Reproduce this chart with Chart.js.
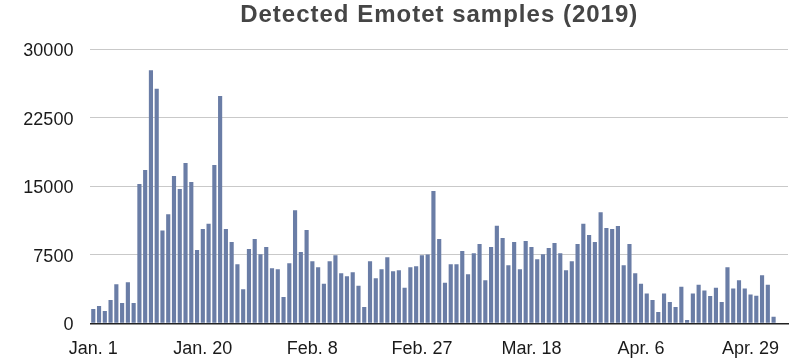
<!DOCTYPE html>
<html>
<head>
<meta charset="utf-8">
<script src="https://cdn.jsdelivr.net/npm/chart.js@4.4.0/dist/chart.umd.min.js"></script>
<style>
  html, body { margin: 0; padding: 0; background: #ffffff; }
  #wrap { width: 802px; height: 358px; }
</style>
</head>
<body>
<div id="wrap"><canvas id="c" width="802" height="358"></canvas></div>
<script>
const titleText = "Detected Emotet samples (2019)";
const tickLabels = ["Jan. 1", "Jan. 20", "Feb. 8", "Feb. 27", "Mar. 18", "Apr. 6", "Apr. 29"];
const tickEvery = 19;
const yTicks = [0, 7500, 15000, 22500, 30000];
const samples = [
  1570, 1900, 1350, 2550, 4270, 2230, 4490, 2230, 15250, 16790, 27700, 25690, 10150, 11930, 16130, 14700, 17550, 15470, 8030,
  10330, 10910, 17340, 24890, 10330, 8900, 6460, 3720, 8140, 9230, 7550, 8360, 6020, 5910, 2880, 6570, 12370, 7810, 10220, 6790,
  6130, 4340, 6790, 7450, 5470, 5150, 5580, 4120, 1790, 6790, 4930, 5910, 7230, 5690, 5800, 3900, 6130, 6240, 7450, 7520,
  14490, 9230, 4450, 6460, 6460, 7920, 5360, 7660, 8690, 4710, 8360, 10690, 9340, 6350, 8900, 5910, 9010, 8360, 7010, 7550,
  8250, 8800, 7660, 5800, 6790, 8690, 10910, 9670, 8900, 12150, 10440, 10330, 10660, 6350, 8690, 5470, 4340, 3250, 2550, 1240,
  3250, 2340, 1790, 4010, 360, 3250, 4230, 3580, 2990, 3900, 2340, 6130, 3800, 4710, 3800, 3140, 3030, 5260, 4230, 730
];
// categories: one per day; a label every 19 days, plus two empty slots for the right margin
const categories = samples.map((_, i) => (i % tickEvery === 0 ? tickLabels[i / tickEvery] : ""));
categories.push("", "");

// title centred over the plot area (as in the reference)
const areaTitle = {
  id: "areaTitle",
  afterDraw(chart) {
    const ctx = chart.ctx, a = chart.chartArea;
    ctx.save();
    ctx.font = "bold 24px 'Liberation Sans', Arial, sans-serif";
    if ("letterSpacing" in ctx) ctx.letterSpacing = "1px";
    ctx.fillStyle = "#454545";
    ctx.textAlign = "center";
    ctx.textBaseline = "alphabetic";
    ctx.fillText(titleText, (a.left + a.right) / 2, 21.5);
    ctx.restore();
  }
};

new Chart(document.getElementById("c"), {
  type: "bar",
  data: {
    labels: categories,
    datasets: [{
      data: samples,
      backgroundColor: "rgb(106,125,166)",
      borderWidth: 0,
      categoryPercentage: 1.0,
      barPercentage: 0.72
    }]
  },
  plugins: [areaTitle],
  options: {
    responsive: false,
    animation: false,
    layout: { padding: { left: 0, right: 14, top: 49.3, bottom: 0 } },
    plugins: {
      legend: { display: false },
      tooltip: { enabled: false },
      title: { display: false }
    },
    scales: {
      x: {
        afterFit: function(scale) { scale.height = 34.7; },
        grid: { display: false },
        border: { display: true, color: "#222222", width: 1.5 },
        ticks: {
          autoSkip: false,
          maxRotation: 0,
          minRotation: 0,
          padding: 7,
          color: "#1a1a1a",
          font: { family: "'Liberation Sans', Arial, sans-serif", size: 18 },
          callback: function(v, i) { return categories[i]; }
        }
      },
      y: {
        min: 0,
        max: 30000,
        afterBuildTicks: function(scale) { scale.ticks = yTicks.map(v => ({ value: v })); },
        afterFit: function(scale) { scale.width = 90.4; },
        grid: {
          drawTicks: false,
          color: function(ctx) { return ctx.tick && ctx.tick.value === 0 ? "rgba(0,0,0,0)" : "#c9c9c9"; },
          lineWidth: 1
        },
        border: { display: false },
        ticks: {
          padding: 17,
          labelOffset: 2,
          color: "#1a1a1a",
          font: { family: "'Liberation Sans', Arial, sans-serif", size: 18 },
          callback: function(v) { return String(v); }
        }
      }
    }
  }
});
</script>
</body>
</html>
